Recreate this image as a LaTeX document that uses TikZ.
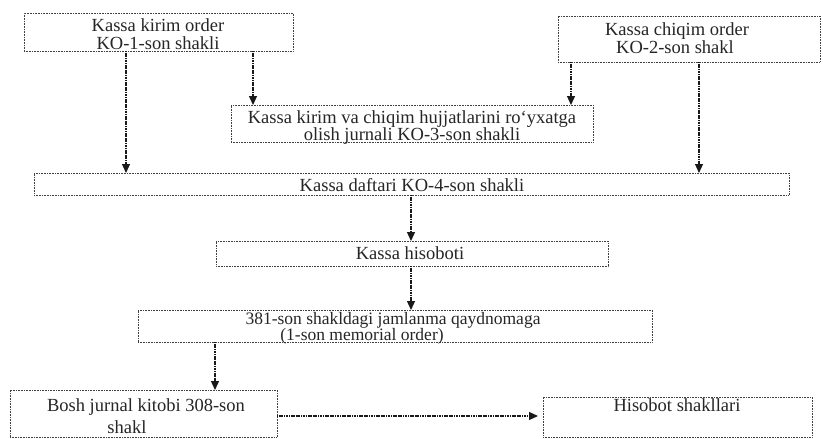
\documentclass[tikz,border=0pt]{standalone}
\usepackage{fontspec}
\setmainfont{Liberation Serif}
\usetikzlibrary{arrows.meta}
\begin{document}
\begin{tikzpicture}[x=1pt,y=-1pt,
  box/.style={draw=black!75, densely dotted, line width=0.6pt, inner sep=0pt, outer sep=0pt, anchor=north west},
  lbl/.style={anchor=base, inner sep=0pt, font=\fontsize{18.5}{21}\selectfont, text=black!85},
  small/.style={font=\fontsize{17.5}{20}\selectfont},
  arr/.style={draw=black!90, dash pattern=on 1.2pt off 0.5pt, line width=1.2pt, -{Triangle[length=9pt,width=8pt]}}]
\useasboundingbox (0,0) rectangle (823,439);
\fill[white] (0,0) rectangle (823,439);

% boxes
\node[box, minimum width=269pt, minimum height=38pt] (b1) at (24,13) {};
\node[box, minimum width=262pt, minimum height=46pt] (b2) at (558,16) {};
\node[box, minimum width=362pt, minimum height=37pt] (b3) at (231,105) {};
\node[box, minimum width=755pt, minimum height=22pt] (b4) at (34,173) {};
\node[box, minimum width=392pt, minimum height=25pt] (b5) at (216,241) {};
\node[box, minimum width=514pt, minimum height=32pt] (b6) at (138,310) {};
\node[box, minimum width=267pt, minimum height=47pt] (b7) at (10,390) {};
\node[box, minimum width=269pt, minimum height=40pt] (b8) at (543,397) {};

% texts
\node[lbl] (t1a) at (158,31) {Kassa kirim order};
\node[lbl] (t1b) at (158,49) {KO-1-son shakli};
\node[lbl] (t2a) at (677,35) {Kassa chiqim order};
\node[lbl] (t2b) at (675,53) {KO-2-son shakl};
\node[lbl] (t3a) at (412,123) {Kassa kirim va chiqim hujjatlarini ro‘yxatga};
\node[lbl] (t3b) at (412,140) {olish jurnali KO-3-son shakli};
\node[lbl] (t4) at (412,191) {Kassa daftari KO-4-son shakli};
\node[lbl] (t5) at (410,259) {Kassa hisoboti};
\node[lbl, small] (t6a) at (393,324) {381-son shakldagi jamlanma qaydnomaga};
\node[lbl, small] (t6b) at (362,340) {(1-son memorial order)};
\node[lbl] (t7a) at (146,411) {Bosh jurnal kitobi 308-son};
\node[lbl] (t7b) at (127,433) {shakl};
\node[lbl] (t8) at (677,411) {Hisobot shakllari};

% connector columns
\coordinate (c1) at (126,0);
\coordinate (c2) at (253,0);
\coordinate (c3) at (571,0);
\coordinate (c4) at (699,0);
\coordinate (c5) at (411,0);
\coordinate (c6) at (215,0);
\coordinate (r7) at (0,416);

% connectors
\draw[arr] (b1.south -| c1) -- (b4.north -| c1);
\draw[arr] (b1.south -| c2) -- (b3.north -| c2);
\draw[arr] (b2.south -| c3) -- (b3.north -| c3);
\draw[arr] (b2.south -| c4) -- (b4.north -| c4);
\draw[arr] (b4.south -| c5) -- (b5.north -| c5);
\draw[arr] (b5.south -| c5) -- (b6.north -| c5);
\draw[arr] (b6.south -| c6) -- (b7.north -| c6);
\draw[arr, shorten >=5pt] (b7.east |- r7) -- (b8.west |- r7);
\end{tikzpicture}
\end{document}
